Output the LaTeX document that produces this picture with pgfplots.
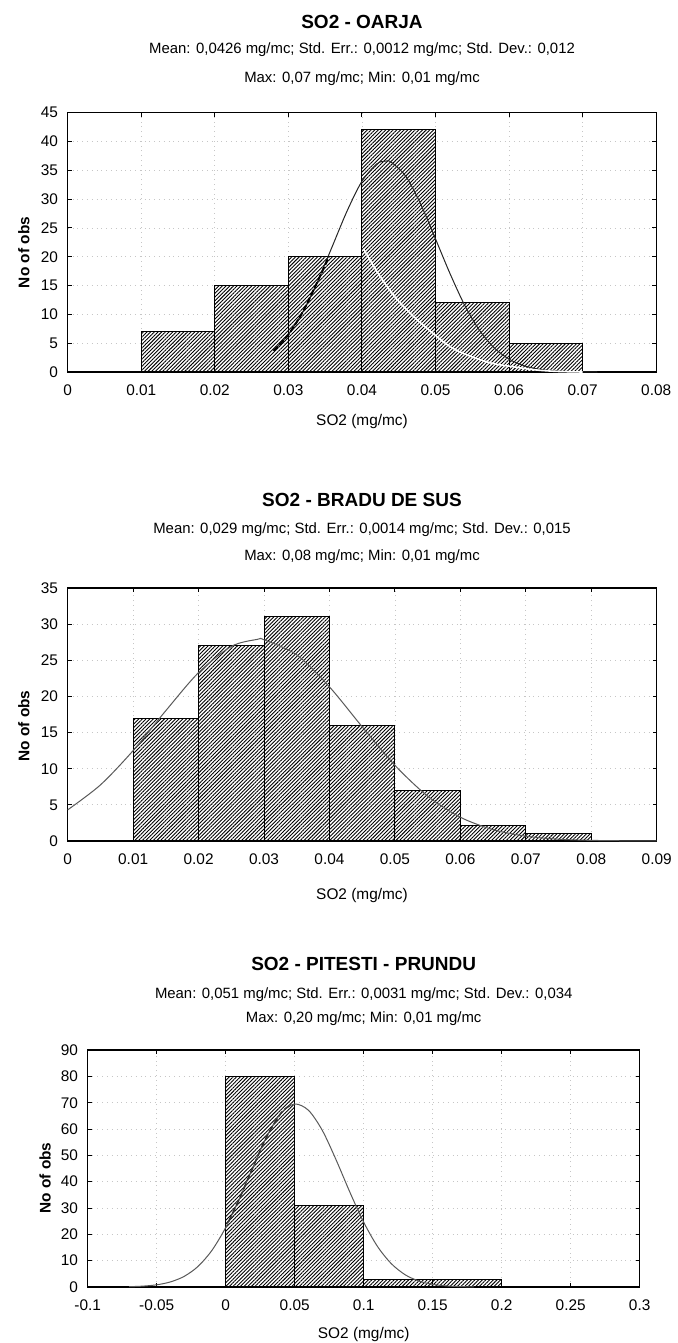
\documentclass[border=0pt]{standalone}
\usepackage{fontspec}
\setmainfont{Liberation Sans}
\usepackage{pgfplots}
\pgfplotsset{compat=1.18}
\usetikzlibrary{patterns.meta}

\pgfplotsset{
  hist/.style={
    scale only axis, anchor=south west,
    tick align=inside, major tick length=2pt,
    tick style={black, line width=0.5pt},
    axis line style={line width=0.6pt},
    grid=major, major grid style={gray!45, dotted, line width=0.4pt},
    ymin=0, scaled x ticks=false, scaled y ticks=false,
    /pgf/number format/assume math mode=true,
    tick label style={font=\fontsize{7.7}{9}\selectfont},
    xticklabel style={anchor=base, yshift=-11.5pt},
    yticklabel style={xshift=-1.3pt},
  },
  hbar/.style={ybar interval, draw=black, line width=0.5pt,
    pattern={Lines[angle=45,distance=1.3pt,line width=0.45pt]}},
}
\newcommand{\ttl}{\fontsize{9.5}{11}\selectfont\bfseries}
\newcommand{\sub}{\fontsize{7.45}{9}\selectfont}
\newcommand{\lab}{\fontsize{7.7}{9}\selectfont}

\begin{document}
\begin{tikzpicture}
\path[use as bounding box] (0,0) rectangle (338.5pt,-671.5pt);

% ---------- Panel 1 ----------
\node[anchor=base] at (181pt,-14.15pt) {\ttl SO2 - OARJA};
\node[anchor=base] at (181pt,-26.75pt) {\sub Mean: 0,0426 mg/mc; Std. Err.: 0,0012 mg/mc; Std. Dev.: 0,012};
\node[anchor=base] at (181pt,-41.5pt) {\sub Max: 0,07 mg/mc; Min: 0,01 mg/mc};
\node[anchor=base] at (181pt,-212.5pt) {\lab SO2 (mg/mc)};
\node[rotate=90] at (11.9pt,-126.25pt) {\lab\bfseries No of obs};
\begin{axis}[hist, at={(33.85pt,-186pt)}, width=294.25pt, height=129.65pt,
  xmin=0, xmax=0.08, ymax=45,
  xtick={0,0.01,0.02,0.03,0.04,0.05,0.06,0.07,0.08},
  xticklabels={0,0.01,0.02,0.03,0.04,0.05,0.06,0.07,0.08},
  ytick={0,5,10,15,20,25,30,35,40,45}]
\addplot[hbar] coordinates {(0.01,7)(0.02,15)(0.03,20)(0.04,42)(0.05,12)(0.06,5)(0.07,0)};
\addplot[black, line width=1.1pt] coordinates {(0,0)(0.08,0)};
\addplot[black!85, line width=0.5pt, smooth] coordinates {(0.028,3.7)(0.030,6.5)(0.032,10.55)(0.034,15.8)(0.036,21.9)(0.038,28.0)(0.040,33.1)(0.042,36.1)(0.0432,36.6)(0.044,36.4)(0.046,33.9)(0.048,29.1)(0.050,23.1)(0.052,17.0)(0.054,11.5)(0.056,7.2)(0.058,4.17)(0.060,2.23)(0.062,1.10)(0.064,0.50)(0.066,0.21)(0.068,0.08)(0.070,0.03)(0.072,0)};
\addplot[black, line width=1pt, dash pattern=on 3pt off 1.2pt, smooth] coordinates {(0.028,3.7)(0.030,6.5)(0.032,10.55)(0.034,15.8)(0.0355,20)};
\addplot[white, line width=0.8pt, smooth] coordinates {(0.0402,21.4)(0.0422,17.1)(0.0445,13.0)(0.0468,9.9)(0.0492,7.2)(0.0521,4.3)(0.055,2.6)(0.0579,1.45)(0.0608,0.87)(0.0637,0.35)(0.0666,0.1)(0.070,0)};
\end{axis}

% ---------- Panel 2 ----------
\node[anchor=base] at (181pt,-253.35pt) {\ttl SO2 - BRADU DE SUS};
\node[anchor=base] at (181pt,-266.5pt) {\sub Mean: 0,029 mg/mc; Std. Err.: 0,0014 mg/mc; Std. Dev.: 0,015};
\node[anchor=base] at (181pt,-280pt) {\sub Max: 0,08 mg/mc; Min: 0,01 mg/mc};
\node[anchor=base] at (181pt,-449.5pt) {\lab SO2 (mg/mc)};
\node[rotate=90] at (11.9pt,-363pt) {\lab\bfseries No of obs};
\begin{axis}[hist, at={(33.85pt,-420.5pt)}, width=294.5pt, height=126.5pt,
  xmin=0, xmax=0.09, ymax=35,
  xtick={0,0.01,0.02,0.03,0.04,0.05,0.06,0.07,0.08,0.09},
  xticklabels={0,0.01,0.02,0.03,0.04,0.05,0.06,0.07,0.08,0.09},
  ytick={0,5,10,15,20,25,30,35}]
\addplot[hbar] coordinates {(0.01,17)(0.02,27)(0.03,31)(0.04,16)(0.05,7)(0.06,2.2)(0.07,1)(0.08,0)};
\addplot[black, line width=1.1pt] coordinates {(0,0)(0.09,0)};
\addplot[gray!70!black, line width=0.5pt, smooth] coordinates {(0,4.31)(0.005,7.76)(0.01,12.51)(0.015,18.04)(0.02,23.30)(0.025,26.92)(0.029,27.9)(0.03,27.84)(0.035,25.75)(0.04,21.32)(0.045,15.80)(0.05,10.47)(0.055,6.21)(0.06,3.29)(0.065,1.57)(0.07,0.67)(0.075,0.25)(0.08,0.09)(0.085,0.03)(0.09,0.01)};
\end{axis}

% ---------- Panel 3 ----------
\node[anchor=base] at (181.85pt,-485pt) {\ttl SO2 - PITESTI - PRUNDU};
\node[anchor=base] at (181.85pt,-499pt) {\sub Mean: 0,051 mg/mc; Std. Err.: 0,0031 mg/mc; Std. Dev.: 0,034};
\node[anchor=base] at (181.85pt,-511pt) {\sub Max: 0,20 mg/mc; Min: 0,01 mg/mc};
\node[anchor=base] at (181.85pt,-669pt) {\lab SO2 (mg/mc)};
\node[rotate=90] at (22.5pt,-589pt) {\lab\bfseries No of obs};
\begin{axis}[hist, at={(43.85pt,-643.5pt)}, width=276pt, height=118.5pt,
  xmin=-0.1, xmax=0.3, ymax=90,
  xtick={-0.1,-0.05,0,0.05,0.1,0.15,0.2,0.25,0.3},
  xticklabels={-0.1,-0.05,0,0.05,0.1,0.15,0.2,0.25,0.3},
  ytick={0,10,20,30,40,50,60,70,80,90}]
\addplot[hbar] coordinates {(0,80)(0.05,31)(0.1,3)(0.15,3)(0.2,0)};
\addplot[black, line width=1.1pt] coordinates {(-0.1,0)(0.3,0)};
\addplot[gray!70!black, line width=0.5pt, smooth] coordinates {(-0.07,0.12)(-0.06,0.34)(-0.05,0.84)(-0.04,1.94)(-0.03,4.07)(-0.02,7.85)(-0.01,13.9)(0,22.6)(0.01,33.6)(0.02,45.8)(0.03,57.4)(0.04,66.0)(0.05,69.5)(0.06,67.1)(0.07,59.5)(0.08,48.3)(0.09,36.0)(0.10,24.6)(0.11,15.4)(0.12,8.87)(0.13,4.67)(0.14,2.26)(0.15,1.00)(0.16,0.41)(0.17,0.15)(0.18,0.05)};
\addplot[black!80, line width=0.8pt, dash pattern=on 3pt off 1.5pt, smooth] coordinates {(0.002,24.8)(0.01,33.6)(0.02,45.8)(0.03,57.4)(0.04,66.0)(0.046,68.8)};
\end{axis}
\end{tikzpicture}
\end{document}
